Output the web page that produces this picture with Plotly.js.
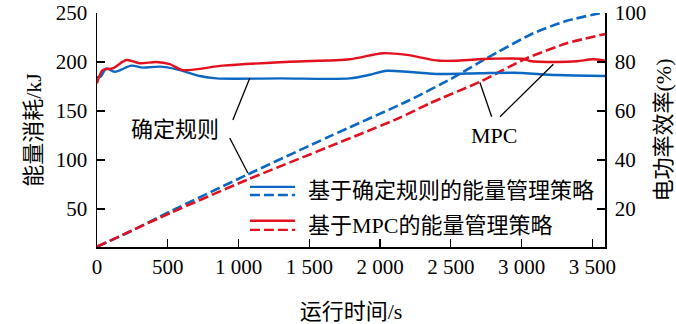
<!DOCTYPE html>
<html>
<head>
<meta charset="utf-8">
<script src="https://cdn.plot.ly/plotly-3.0.1.min.js"></script>
<style>
html,body{margin:0;padding:0;background:#fff;}
#chart{width:676px;height:324px;}
</style>
</head>
<body>
<div id="chart"></div>
<script>
// ---- data ----
const xTickVals = [0, 500, 1000, 1500, 2000, 2500, 3000, 3500];
const xTickText = ['0', '500', '1 000', '1 500', '2 000', '2 500', '3 000', '3 500'];
const yLeftTicks = [50, 100, 150, 200, 250];
const yRightTicks = [20, 40, 60, 80, 100];

// cumulative energy consumption (kJ, left axis)
const tRuleEnergy = [0, 231, 514, 1057, 1640, 2211, 2530, 2754, 3083, 3320, 3590];
const ruleEnergy = [11.5, 26.8, 47.2, 84.7, 123.8, 161.2, 185.0, 203.8, 229.3, 242.0, 251.0];
const tMpcEnergy = [0, 514, 1057, 1640, 2141, 2353, 2707, 3037, 3320, 3590];
const mpcEnergy = [11.5, 45.6, 79.6, 113.6, 143.2, 157.9, 179.9, 203.8, 219.1, 228.5];

// electric power efficiency (%, right axis)
const tRuleEff = [0, 26, 66, 125, 243, 323, 443, 564, 726, 844, 1300, 1787, 1929, 2047, 2211, 2424, 2707, 2940, 3251, 3590];
const ruleEff = [73.8, 74.0, 77.4, 76.0, 78.5, 77.7, 78.1, 77.0, 74.3, 73.3, 73.3, 73.3, 74.8, 76.4, 75.9, 75.1, 75.4, 75.6, 74.7, 74.3];
const tMpcEff = [0, 40, 111, 208, 302, 420, 514, 606, 889, 1363, 1787, 2020, 2190, 2424, 2777, 3010, 3060, 3251, 3392, 3505, 3590];
const mpcEff = [71.3, 76.7, 77.4, 80.8, 79.5, 80.0, 79.1, 76.7, 78.5, 80.1, 81.1, 83.6, 82.9, 80.5, 81.3, 81.3, 80.4, 80.0, 80.3, 81.1, 80.5];

const legendNames = ['基于确定规则的能量管理策略', '基于MPC的能量管理策略'];

// ---- style ----
const BLUE = '#0a67c2';
const RED = '#e3101e';
const FONT = "'Liberation Serif', 'Times New Roman', 'Noto Sans CJK SC', serif";
const DASH = '10px,4px';

const traces = [
  {x: tRuleEff, y: ruleEff, yaxis: 'y2', mode: 'lines', line: {color: BLUE, width: 2.4, shape: 'spline', smoothing: 0.8}, showlegend: false},
  {x: tMpcEff, y: mpcEff, yaxis: 'y2', mode: 'lines', line: {color: RED, width: 2.4, shape: 'spline', smoothing: 0.8}, showlegend: false},
  {x: tRuleEnergy, y: ruleEnergy, mode: 'lines', line: {color: BLUE, width: 2.6, dash: DASH, shape: 'spline', smoothing: 0.6}, showlegend: false},
  {x: tMpcEnergy, y: mpcEnergy, mode: 'lines', line: {color: RED, width: 2.6, dash: DASH, shape: 'spline', smoothing: 0.6}, showlegend: false}
];

function legendShapes(x0, x1, ySolid, yDash, color) {
  return [
    {type: 'line', xref: 'paper', yref: 'paper', x0: x0, x1: x1, y0: ySolid, y1: ySolid, line: {color: color, width: 2.4}},
    {type: 'line', xref: 'paper', yref: 'paper', x0: x0, x1: x1, y0: yDash, y1: yDash, line: {color: color, width: 2.4, dash: DASH}}
  ];
}

const leader = (x0, y0, x1, y1) => ({type: 'line', xref: 'x', yref: 'y', x0: x0, y0: y0, x1: x1, y1: y1, line: {color: '#000', width: 1.3}});

const shapes = [
  ...legendShapes(0.301, 0.390, 0.257, 0.222, BLUE),
  ...legendShapes(0.301, 0.390, 0.112, 0.073, RED),
  leader(960, 140.8, 1080, 183.7),
  leader(938, 122.4, 1066, 86.7),
  leader(2789, 144.2, 2706, 179.1),
  leader(2848, 144.2, 3225, 197.7)
];

const annotations = [
  {xref: 'paper', yref: 'paper', x: 0.411, y: 0.240, xanchor: 'left', yanchor: 'middle', text: legendNames[0], showarrow: false, font: {family: FONT, size: 22, color: '#000'}},
  {xref: 'paper', yref: 'paper', x: 0.411, y: 0.090, xanchor: 'left', yanchor: 'middle', text: legendNames[1], showarrow: false, font: {family: FONT, size: 22, color: '#000'}},
  {xref: 'x', yref: 'y', x: 550, y: 131.6, text: '确定规则', showarrow: false, font: {family: FONT, size: 22, color: '#000'}},
  {xref: 'x', yref: 'y', x: 2805, y: 124.5, text: 'MPC', showarrow: false, font: {family: FONT, size: 22, color: '#000'}}
];

const layout = {
  width: 676, height: 324,
  margin: {l: 97, r: 71, t: 13, b: 77},
  paper_bgcolor: '#fff', plot_bgcolor: '#fff',
  font: {family: FONT, size: 21, color: '#000'},
  showlegend: false,
  xaxis: {
    range: [0, 3590], tickvals: xTickVals, ticktext: xTickText,
    ticks: 'inside', ticklen: 8, tickwidth: 1.3, tickcolor: '#000',
    showline: true, linecolor: '#000', linewidth: 1.5,
    showgrid: false, zeroline: false,
    tickfont: {family: FONT, size: 21},
    title: {text: '运行时间/s', font: {family: FONT, size: 22}, standoff: 26}
  },
  yaxis: {
    range: [11.2, 250], tickvals: yLeftTicks,
    ticks: 'inside', ticklen: 8, tickwidth: 1.3, tickcolor: '#000',
    showline: true, linecolor: '#000', linewidth: 1.5,
    showgrid: false, zeroline: false,
    tickfont: {family: FONT, size: 21},
    ticklabelstandoff: 4,
    title: {text: '能量消耗/kJ', font: {family: FONT, size: 22}, standoff: 8}
  },
  yaxis2: {
    range: [4.48, 100], tickvals: yRightTicks, overlaying: 'y', side: 'right',
    ticks: 'inside', ticklen: 8, tickwidth: 1.3, tickcolor: '#000',
    showline: true, linecolor: '#000', linewidth: 1.5,
    showgrid: false, zeroline: false,
    tickfont: {family: FONT, size: 21},
    ticklabelstandoff: 4,
    title: {text: '电功率效率(%)', font: {family: FONT, size: 22}, standoff: 12}
  },
  shapes: shapes,
  annotations: annotations
};

Plotly.newPlot('chart', traces, layout, {displayModeBar: false, staticPlot: true});
</script>
</body>
</html>
